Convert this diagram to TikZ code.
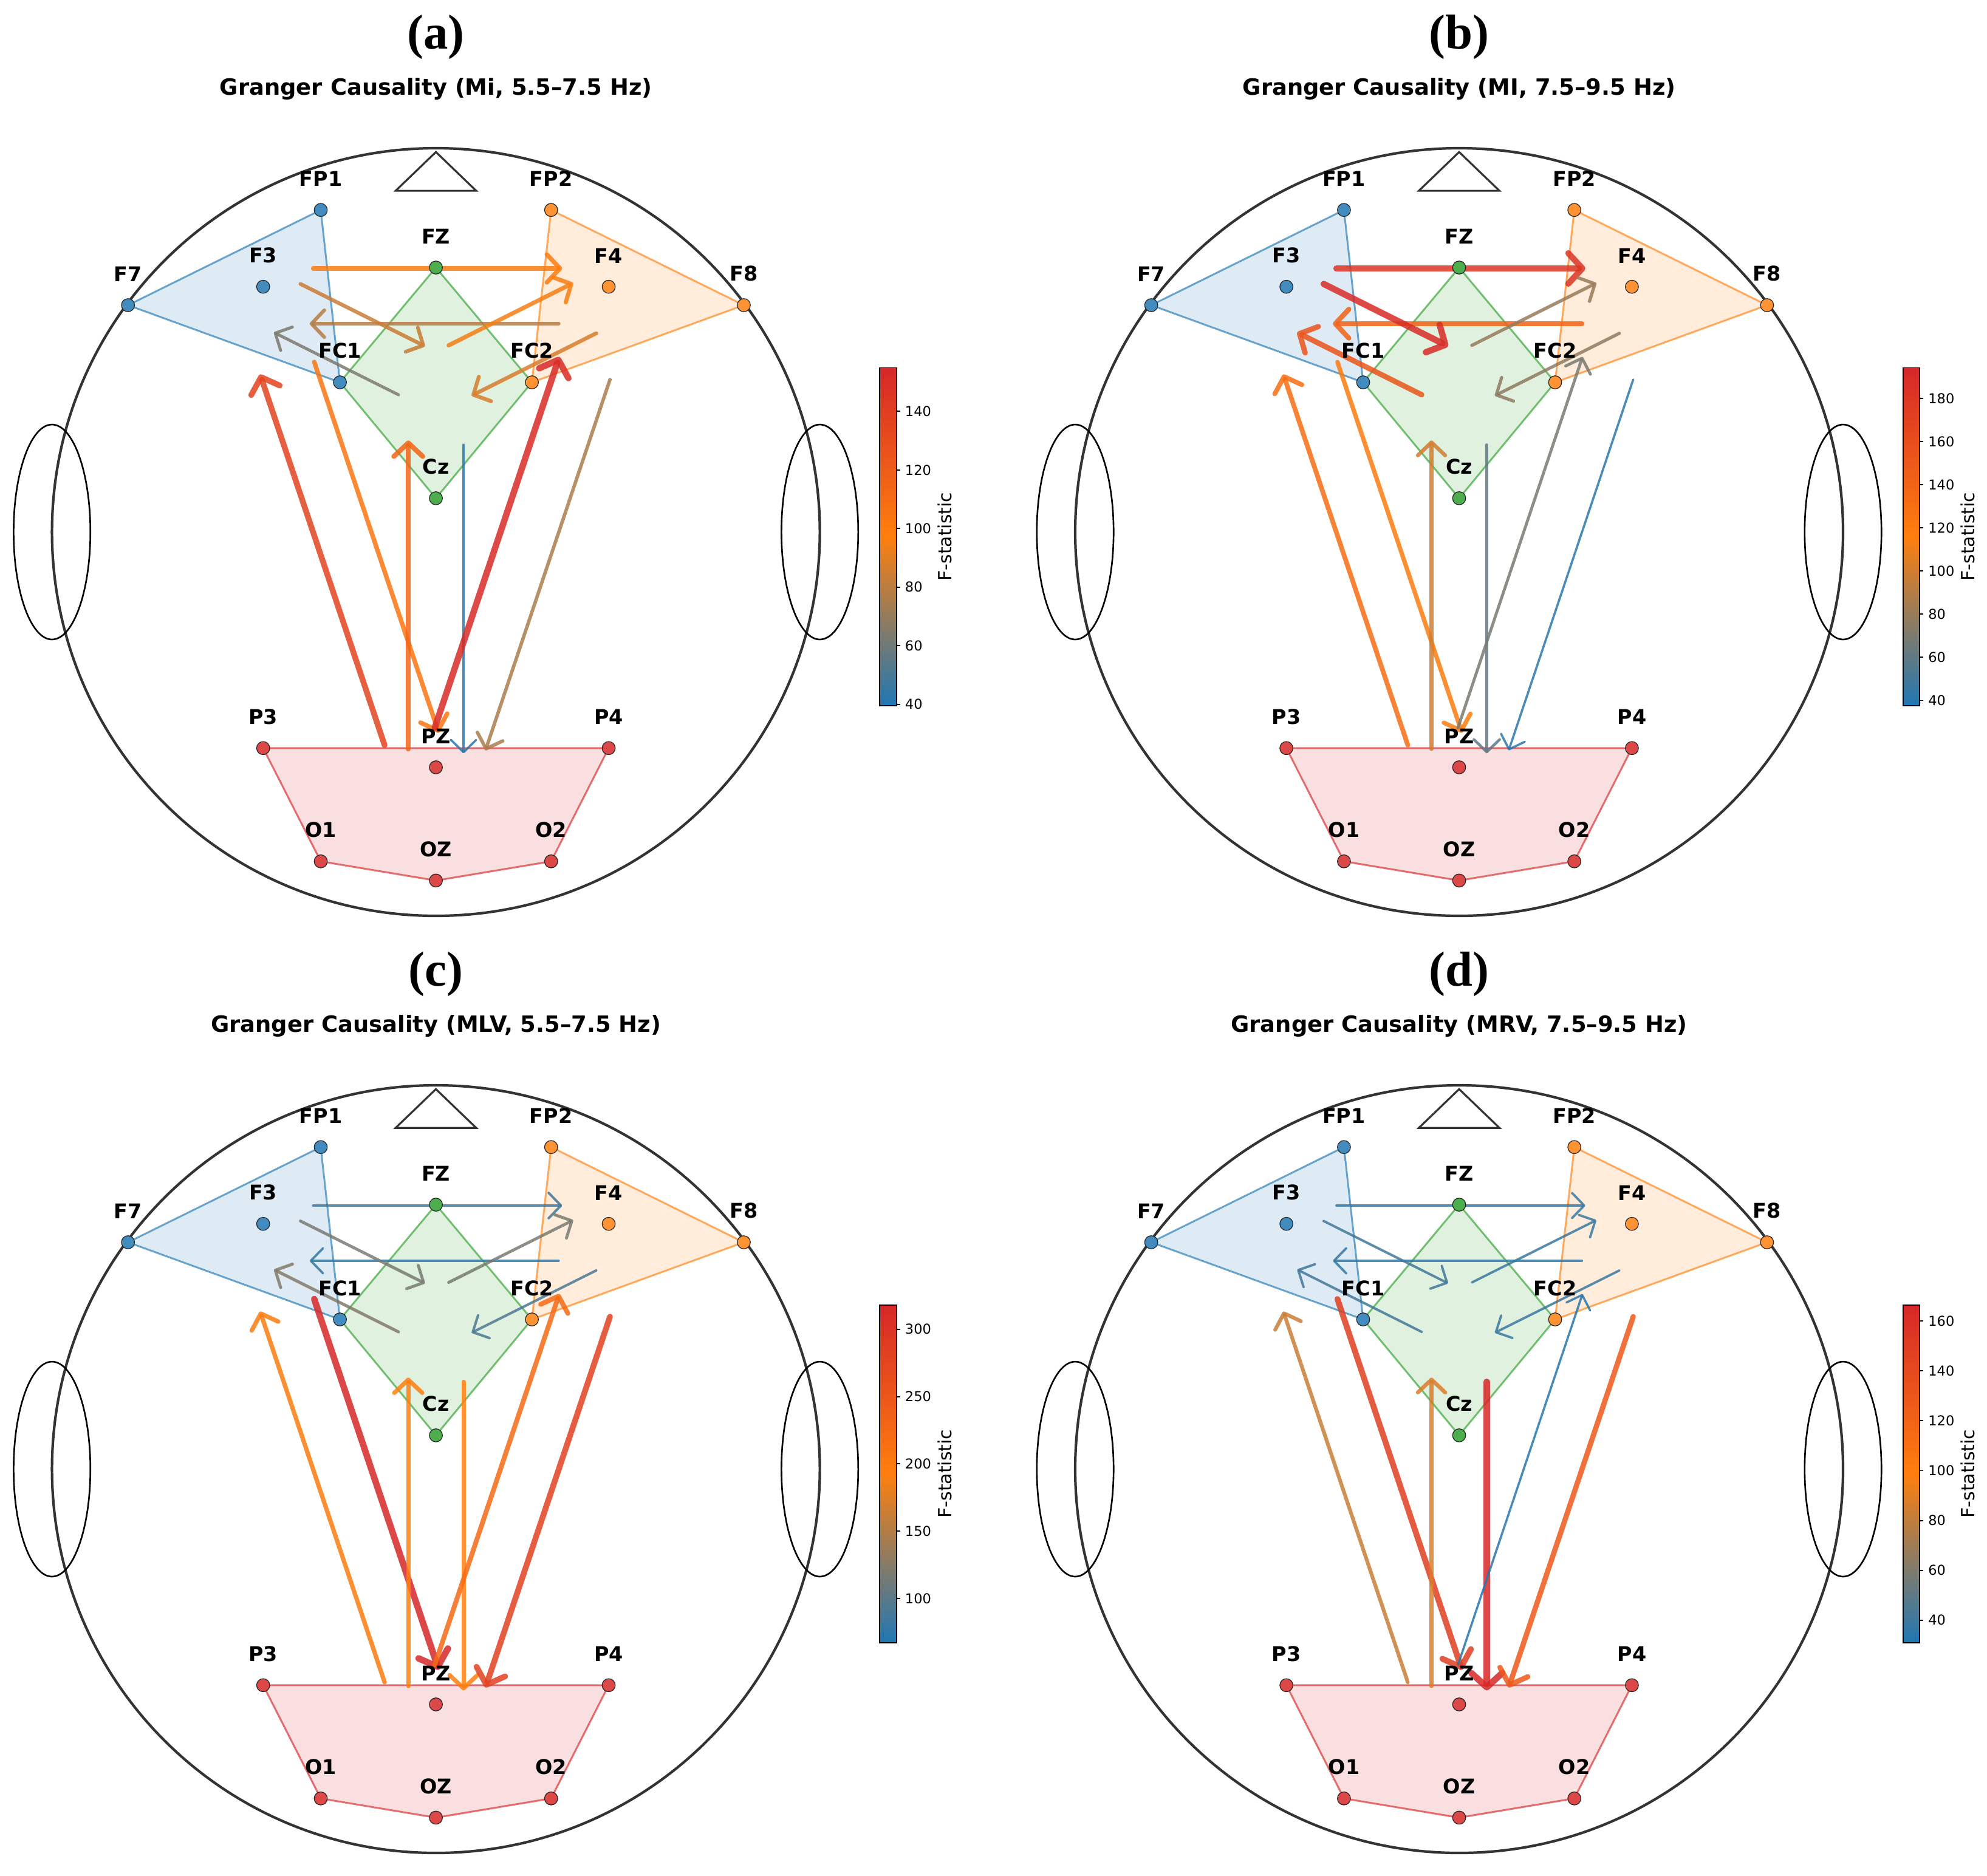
\documentclass[tikz,border=0pt]{standalone}
\usepackage{fontspec}
\setmainfont{DejaVu Sans}
\newfontfamily\tagfont{Liberation Serif}
\usetikzlibrary{calc,positioning,arrows.meta}

\definecolor{cmBlue}{HTML}{1F77B4}
\definecolor{cmOrange}{HTML}{FF7F0E}
\definecolor{cmRed}{HTML}{D62728}
\definecolor{regL}{HTML}{1F77B4}
\definecolor{regR}{HTML}{FF7F0E}
\definecolor{regC}{HTML}{2CA02C}
\definecolor{regP}{HTML}{D62728}

\pgfdeclarelayer{bg}
\pgfdeclarelayer{mid}
\pgfsetlayers{bg,mid,main}

\tikzset{
  headline/.style={draw=black!80, line width=1.2pt},
  earline/.style={draw=black, line width=0.75pt},
  elec/.style={circle, draw=black!85, line width=0.35pt, inner sep=0pt, minimum size=0.215cm},
  elbl/.style={font=\fontsize{9.5}{11}\selectfont\bfseries, inner sep=0pt},
  lobe/.style={draw=#1, fill=#1, draw opacity=0.65, fill opacity=0.15, line width=0.85pt, line join=round},
  gcarrow/.style={draw=gccol, line cap=round, opacity=0.85, -{Straight Barb[length=0.184cm 0.47, width=0.362cm 1.4, round]}},
  paneltag/.style={font=\tagfont\fontsize{23}{26}\selectfont\bfseries, inner sep=0pt},
  ptitle/.style={font=\fontsize{10.5}{12}\selectfont\bfseries, anchor=base, inner sep=0pt},
  cbtick/.style={font=\fontsize{6.4}{7.5}\selectfont, anchor=west, inner sep=0pt},
  cblbl/.style={font=\fontsize{8.5}{10}\selectfont, rotate=90, inner sep=0pt}
}

% colour and width of a Granger arrow, #1 = position on the colour scale in percent
\newcommand{\gcset}[1]{%
  \pgfmathsetmacro{\gcw}{0.97+2.05*#1/100}%
  \ifnum#1<50\relax
    \pgfmathtruncatemacro{\gcp}{2*#1}%
    \colorlet{gccol}{cmOrange!\gcp!cmBlue}%
  \else
    \pgfmathtruncatemacro{\gcp}{2*(#1-50)}%
    \colorlet{gccol}{cmRed!\gcp!cmOrange}%
  \fi}

% head, electrodes and regions of one panel
\newcommand{\headmap}[1]{%
  \draw[headline] (0,0) circle[radius=1];
  \draw[earline] (-1,0) ellipse[x radius=0.1, y radius=0.28];
  \draw[earline] (1,0) ellipse[x radius=0.1, y radius=0.28];
  \draw[headline, line width=0.9pt] (-0.105,0.889) -- (0,0.99) -- (0.105,0.889) -- cycle;
  \foreach \e/\ex/\ey/\rg in {FP1/-0.3/0.839/L, FP2/0.3/0.839/R, F7/-0.802/0.591/L,
      F3/-0.45/0.639/L, FZ/0/0.689/C, F4/0.45/0.639/R, F8/0.802/0.591/R,
      FC1/-0.25/0.39/L, FC2/0.25/0.39/R, Cz/0/0.088/C, P3/-0.45/-0.563/P,
      PZ/0/-0.613/P, P4/0.45/-0.563/P, O1/-0.3/-0.858/P, OZ/0/-0.908/P, O2/0.3/-0.858/P}{%
    \node[elec, fill=reg\rg!85!white] (#1-\e) at (\ex,\ey) {};
    \node[elbl, above=0.27cm of #1-\e] (#1-\e-t) {\e};
  }
  \coordinate (#1-L) at ($0.25*(#1-FP1)+0.25*(#1-F7)+0.25*(#1-F3)+0.25*(#1-FC1)$);
  \coordinate (#1-R) at ($0.25*(#1-FP2)+0.25*(#1-F8)+0.25*(#1-F4)+0.25*(#1-FC2)$);
  \coordinate (#1-C) at ($0.25*(#1-FZ)+0.25*(#1-FC1)+0.25*(#1-FC2)+0.25*(#1-Cz)$);
  \coordinate (#1-P) at ($0.16667*(#1-P3)+0.16667*(#1-PZ)+0.16667*(#1-P4)+0.16667*(#1-O1)+0.16667*(#1-OZ)+0.16667*(#1-O2)$);
  \begin{pgfonlayer}{bg}
    \draw[lobe=regL] (#1-FP1.center) -- (#1-F7.center) -- (#1-FC1.center) -- cycle;
    \draw[lobe=regR] (#1-FP2.center) -- (#1-F8.center) -- (#1-FC2.center) -- cycle;
    \draw[lobe=regC] (#1-FZ.center) -- (#1-FC2.center) -- (#1-Cz.center) -- (#1-FC1.center) -- cycle;
    \draw[lobe=regP] (#1-P3.center) -- (#1-P4.center) -- (#1-O2.center) -- (#1-OZ.center) -- (#1-O1.center) -- cycle;
  \end{pgfonlayer}
}

% arrows between regions, #2 = list from/to/percent
\newcommand{\gcflow}[2]{%
  \begin{pgfonlayer}{mid}
  \foreach \s/\d/\t in {#2}{%
    \gcset{\t}
    \draw[gcarrow, line width=\gcw pt] ($(#1-\s)!0.145!(#1-\d)!0.455cm!90:(#1-\d)$) -- ($(#1-\s)!0.865!(#1-\d)!0.455cm!90:(#1-\d)$);
  }
  \end{pgfonlayer}
}

% colour bar: prefix, vmin, vmax, ticks
\newcommand{\cbar}[4]{%
  \shade[bottom color=cmBlue, top color=cmOrange] (1.156,-0.452) rectangle (1.2,-0.012);
  \shade[bottom color=cmOrange, top color=cmRed] (1.156,-0.012) rectangle (1.2,0.428);
  \draw[line width=0.55pt] (1.156,-0.452) rectangle (1.2,0.428);
  \foreach \v in {#4}{%
    \pgfmathsetmacro{\ty}{-0.452+0.88*(\v-#2)/(#3-#2)}
    \draw[line width=0.55pt] (1.2,\ty) -- (1.209,\ty);
    \node[cbtick] (#1-tick\v) at (1.221,\ty) {\v};
  }
  \node[cblbl] (#1-cblabel) at (1.325,-0.012) {F-statistic};
}

\begin{document}
\begin{tikzpicture}
\useasboundingbox (0,0) rectangle (32.71,-30.88);

% (a)
\begin{scope}[shift={(7.176,-8.76)}, x=6.32cm, y=6.32cm]
  \node[paneltag] (a-tag) at (0,1.289) {(a)};
  \node[ptitle] (a-title) at (0,1.138) {Granger Causality (Mi, 5.5–7.5 Hz)};
  \headmap{a}
  \gcflow{a}{L/R/52, R/L/34, L/C/38, C/L/21, C/R/48, R/C/41, P/L/84, L/P/55, P/C/65, C/P/3, P/R/98, R/P/31}
  \cbar{a}{39.6}{154.9}{40,60,...,140}
\end{scope}

% (b)
\begin{scope}[shift={(24.02,-8.76)}, x=6.32cm, y=6.32cm]
  \node[paneltag] (b-tag) at (0,1.289) {(b)};
  \node[ptitle] (b-title) at (0,1.138) {Granger Causality (MI, 7.5–9.5 Hz)};
  \headmap{b}
  \gcflow{b}{L/R/92, R/L/66, L/C/97, C/L/74, C/R/27, R/C/25, P/L/60, L/P/52, P/C/40, C/P/14, P/R/20, R/P/3}
  \cbar{b}{37.7}{194.2}{40,60,...,180}
\end{scope}

% (c)
\begin{scope}[shift={(7.176,-24.19)}, x=6.32cm, y=6.32cm]
  \node[paneltag] (c-tag) at (0,1.289) {(c)};
  \node[ptitle] (c-title) at (0,1.138) {Granger Causality (MLV, 5.5–7.5 Hz)};
  \headmap{c}
  \gcflow{c}{L/R/8, R/L/5, L/C/20, C/L/22, C/R/20, R/C/10, P/L/52, L/P/100, P/C/50, C/P/50, P/R/62, R/P/85}
  \cbar{c}{67.3}{318.1}{100,150,...,300}
\end{scope}

% (d)
\begin{scope}[shift={(24.02,-24.19)}, x=6.32cm, y=6.32cm]
  \node[paneltag] (d-tag) at (0,1.289) {(d)};
  \node[ptitle] (d-title) at (0,1.138) {Granger Causality (MRV, 7.5–9.5 Hz)};
  \headmap{d}
  \gcflow{d}{L/R/5, R/L/5, L/C/8, C/L/8, C/R/6, R/C/6, P/L/38, L/P/87, P/C/42, C/P/100, P/R/2, R/P/72}
  \cbar{d}{31}{166.5}{40,60,...,160}
\end{scope}
\end{tikzpicture}
\end{document}
